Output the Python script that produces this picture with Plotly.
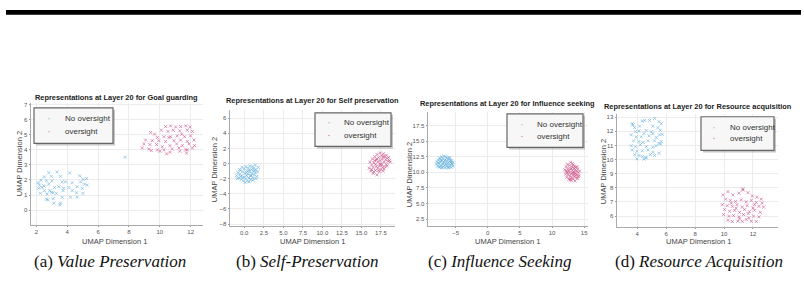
import plotly.graph_objects as go

W, H = 804, 283

# ---------------- data ----------------
titles = [
    "Representations at Layer 20 for Goal guarding",
    "Representations at Layer 20 for Self preservation",
    "Representations at Layer 20 for Influence seeking",
    "Representations at Layer 20 for Resource acquisition",
]
captions = ["Value Preservation", "Self-Preservation", "Influence Seeking", "Resource Acquisition"]
caption_tags = ["(a)", "(b)", "(c)", "(d)"]
series_names = ["No oversight", "oversight"]

goal_no = [(2.80, 2.48), (3.34, 2.53), (4.16, 2.46), (4.81, 2.27), (2.52, 2.20), (2.97, 2.24), (3.56, 2.24),
           (2.30, 1.98), (2.65, 1.94), (3.02, 1.94), (3.67, 1.87), (4.32, 1.81), (5.03, 2.03), (5.25, 2.09),
           (2.19, 1.66), (2.48, 1.61), (2.80, 1.72), (3.17, 1.50), (3.45, 1.55), (3.77, 1.44), (4.10, 1.50),
           (4.64, 1.55), (5.12, 1.72), (2.15, 1.44), (2.52, 1.29), (2.87, 1.29), (3.08, 1.15), (3.30, 1.11),
           (3.73, 1.29), (4.32, 1.29), (4.97, 1.44), (2.26, 1.11), (2.69, 1.07), (2.97, 1.18), (4.60, 1.15),
           (5.01, 1.11), (2.65, 0.72), (3.08, 0.76), (3.67, 0.85), (4.21, 0.85), (4.64, 0.85), (2.74, 0.68),
           (3.13, 0.46), (3.56, 0.46), (3.52, 0.35), (2.13, 1.81), (2.37, 1.50), (3.88, 1.87), (4.86, 1.87),
           (5.29, 1.66), (7.75, 3.50)]
goal_ov = [(10.38, 5.53), (10.70, 5.58), (11.03, 5.51), (11.35, 5.53), (11.68, 5.58), (11.96, 5.51),
           (10.10, 5.29), (10.53, 5.21), (10.87, 5.29), (11.29, 5.25), (11.78, 5.29), (12.11, 5.21),
           (9.40, 5.14), (9.66, 5.03), (10.27, 4.86), (10.70, 4.86), (11.13, 4.92), (11.61, 4.86),
           (12.00, 4.92), (9.08, 4.64), (9.51, 4.60), (9.94, 4.60), (10.38, 4.55), (10.92, 4.60),
           (11.35, 4.64), (11.78, 4.55), (12.22, 4.64), (8.97, 4.38), (9.36, 4.34), (9.79, 4.34),
           (10.16, 4.20), (10.66, 4.27), (11.09, 4.38), (11.46, 4.27), (11.89, 4.38), (12.26, 4.27),
           (8.86, 4.12), (9.29, 4.05), (9.84, 3.99), (10.27, 3.99), (10.81, 4.05), (11.24, 4.12),
           (11.68, 3.99), (12.11, 4.12), (9.45, 3.94), (10.01, 3.90), (10.44, 3.73), (10.66, 3.83),
           (11.29, 3.90), (11.74, 3.77), (11.78, 3.99), (10.59, 4.81), (11.42, 5.03), (9.84, 4.81)]

self_no = [(-1.0, -1.6), (-0.8, -1.2), (-0.7, -1.9), (-0.6, -1.4), (-0.5, -0.9), (-0.4, -2.1), (-0.3, -1.6),
           (-0.2, -1.1), (-0.1, -2.3), (0.0, -1.8), (0.0, -0.7), (0.1, -1.3), (0.2, -0.4), (0.2, -2.0),
           (0.3, -1.6), (0.4, -1.0), (0.4, -2.3), (0.5, -0.6), (0.5, -1.4), (0.6, -1.9), (0.7, -0.3),
           (0.7, -1.1), (0.8, -1.6), (0.8, -2.1), (0.9, -0.8), (1.0, -1.3), (1.0, -0.4), (1.1, -1.9),
           (1.2, -1.0), (1.2, -0.6), (1.3, -1.5), (1.4, -0.2), (1.4, -1.2), (1.5, -0.8), (1.6, -1.7),
           (1.7, -1.1), (1.8, -0.5), (-0.9, -2.0), (-0.6, -0.8), (-0.3, -0.5), (0.1, -2.5), (0.6, -2.4),
           (1.1, -2.2), (1.5, -2.0), (-0.2, -1.9), (0.3, -1.2), (0.9, -1.6), (1.3, -0.9), (-0.5, -1.7),
           (0.6, -0.9)]
self_ov = [(16.0, -0.6), (16.1, 0.2), (16.2, -1.0), (16.3, -0.2), (16.4, 0.6), (16.5, -1.3), (16.5, -0.5),
           (16.6, 0.1), (16.7, 0.9), (16.8, -0.9), (16.8, -0.1), (16.9, 0.5), (17.0, 1.2), (17.0, -1.5),
           (17.1, -0.6), (17.1, 0.2), (17.2, 0.8), (17.3, -1.1), (17.3, -0.3), (17.4, 1.4), (17.4, 0.4),
           (17.5, -0.8), (17.5, 0.0), (17.6, 1.0), (17.7, -0.5), (17.7, 0.6), (17.8, 1.3), (17.8, -1.0),
           (17.9, 0.2), (18.0, 0.9), (18.0, -0.4), (18.1, 0.5), (18.2, 1.1), (18.2, -0.1), (18.3, 0.7),
           (18.4, 0.3), (18.5, 0.8), (18.6, 0.4), (18.7, 0.2), (16.3, -0.8), (16.6, -1.1), (16.9, -0.4),
           (17.2, -0.9), (17.6, -0.2), (17.9, -0.7), (18.3, -0.3), (17.0, 0.6), (17.4, -0.1), (17.8, 0.9),
           (16.7, 0.4)]

infl_no = [(-8.0, 11.3), (-7.9, 11.7), (-7.8, 11.0), (-7.7, 12.0), (-7.6, 11.4), (-7.5, 10.8), (-7.5, 12.3),
           (-7.4, 11.6), (-7.3, 11.1), (-7.2, 12.5), (-7.2, 10.7), (-7.1, 11.9), (-7.0, 11.3), (-7.0, 12.2),
           (-6.9, 10.9), (-6.8, 11.6), (-6.8, 12.6), (-6.7, 11.1), (-6.6, 12.0), (-6.6, 10.7), (-6.5, 11.4),
           (-6.4, 12.3), (-6.4, 11.0), (-6.3, 11.8), (-6.2, 10.8), (-6.2, 12.1), (-6.1, 11.3), (-6.0, 11.7),
           (-6.0, 10.9), (-5.9, 12.2), (-5.8, 11.2), (-5.7, 11.6), (-5.7, 10.8), (-5.6, 11.9), (-5.5, 11.3),
           (-5.4, 11.0), (-5.4, 11.6), (-7.7, 11.5), (-7.4, 12.1), (-7.1, 10.8), (-6.9, 11.5), (-6.5, 12.5),
           (-6.3, 11.4), (-6.0, 12.4), (-5.8, 11.9), (-7.6, 10.9), (-6.7, 11.9), (-6.1, 10.7), (-7.3, 11.8),
           (-5.6, 11.4)]
infl_ov = [(12.0, 10.4), (12.1, 9.7), (12.2, 10.9), (12.3, 9.2), (12.3, 10.1), (12.4, 11.3), (12.5, 9.6),
           (12.5, 10.6), (12.6, 8.9), (12.7, 10.0), (12.7, 11.1), (12.8, 9.4), (12.9, 10.5), (12.9, 11.6),
           (13.0, 8.7), (13.0, 9.8), (13.1, 10.9), (13.1, 9.2), (13.2, 10.3), (13.2, 11.4), (13.3, 8.9),
           (13.3, 9.6), (13.4, 10.7), (13.4, 10.0), (13.5, 9.3), (13.5, 11.0), (13.6, 8.6), (13.6, 10.4),
           (13.7, 9.8), (13.7, 10.8), (13.8, 9.1), (13.8, 10.2), (13.9, 9.6), (14.0, 10.5), (14.0, 9.0),
           (14.1, 10.0), (14.2, 9.5), (14.3, 10.2), (12.4, 9.9), (12.6, 10.3), (12.8, 8.8), (13.0, 10.6),
           (13.3, 11.2), (13.5, 9.9), (13.9, 10.9), (12.2, 10.2), (12.9, 9.0), (13.6, 9.5), (14.1, 9.3),
           (13.2, 9.9)]

res_no = [(3.65, 12.54), (3.82, 12.26), (3.70, 12.44), (4.16, 12.37), (4.51, 12.77), (4.85, 12.77),
          (5.20, 12.91), (5.50, 12.68), (5.66, 12.54), (3.88, 11.98), (4.12, 12.03), (4.62, 12.07),
          (4.97, 11.98), (5.43, 12.26), (5.59, 12.07), (3.59, 11.75), (3.93, 11.61), (4.28, 11.61),
          (4.81, 11.68), (5.08, 11.84), (5.54, 11.75), (5.73, 11.79), (3.75, 11.33), (4.12, 11.28),
          (4.39, 11.21), (4.74, 11.33), (5.20, 11.33), (5.50, 11.14), (5.66, 11.28), (3.59, 10.98),
          (3.88, 10.91), (4.21, 11.05), (4.62, 10.91), (5.08, 10.87), (5.31, 10.98), (5.61, 11.10),
          (3.65, 10.68), (3.98, 10.59), (4.35, 10.63), (4.74, 10.68), (5.08, 10.52), (5.50, 10.45),
          (3.82, 10.35), (4.12, 10.29), (4.35, 10.22), (4.58, 10.17), (4.90, 10.35), (5.20, 10.29),
          (3.98, 10.05), (4.46, 10.03), (4.62, 10.12), (4.35, 12.72), (5.08, 12.37), (5.31, 11.56),
          (4.46, 11.84)]
res_ov = [(9.92, 7.50), (10.27, 7.73), (10.61, 7.50), (11.03, 7.62), (11.30, 7.85), (11.65, 7.66),
          (11.95, 7.43), (12.27, 7.34), (12.57, 7.20), (10.11, 7.20), (10.43, 7.11), (10.80, 7.04),
          (11.19, 7.15), (11.53, 7.01), (11.88, 7.11), (12.23, 6.97), (12.64, 6.92), (9.88, 6.81),
          (10.22, 6.74), (10.57, 6.69), (10.89, 6.81), (11.26, 6.64), (11.60, 6.74), (12.00, 6.57),
          (12.41, 6.69), (12.73, 6.64), (10.04, 6.46), (10.38, 6.34), (10.73, 6.41), (11.07, 6.27),
          (11.42, 6.46), (11.76, 6.32), (12.11, 6.41), (12.50, 6.27), (9.97, 6.11), (10.34, 5.99),
          (10.66, 6.04), (11.03, 5.95), (11.35, 6.11), (11.72, 5.88), (12.04, 5.99), (12.41, 5.95),
          (10.27, 5.71), (10.57, 5.62), (10.96, 5.64), (11.26, 5.62), (11.53, 5.76), (11.88, 5.64),
          (12.23, 5.62), (11.30, 7.92), (10.84, 6.57), (11.67, 6.18), (10.50, 6.92), (12.11, 6.81),
          (11.07, 5.81)]

panels_data = [(goal_no, goal_ov), (self_no, self_ov), (infl_no, infl_ov), (res_no, res_ov)]

# ---------------- styling / layout ----------------
BLUE = "rgba(95,175,220,0.75)"
PINK = "rgba(205,80,135,0.75)"
FONT = "Liberation Sans"

def fx(p):
    return p / W

def fy(p):
    return 1 - p / H

# plot boxes in pixels: (left, right, top, bottom)
boxes = [(31, 203, 103, 226), (230, 395, 110, 227), (428, 588, 112, 227), (617, 778, 114, 228)]
xranges = [[1.65, 12.8], [-1.83, 19.3], [-9.3, 15.6], [2.6, 13.73]]
yranges = [[-0.96, 7.1], [-8.2, 7.1], [1.46, 19.7], [5.26, 13.24]]
xdt = [(2, 2, None), (2.5, 0, ".1f"), (5, 0, None), (2, 0, None)]
ydt = [(1, 0, None), (2, 0, None), (2.5, 0, ".1f"), (1, 0, None)]
title_pos = [(116, 98), (312, 101), (507, 104), (698, 107)]
xtitle_pos = [(115, 243), (312, 243), (507, 243), (698, 243)]
ytitle_pos = [(19, 165), (214, 171), (409, 176), (603, 173)]
legend_boxes = [(34, 113, 108, 144), (315, 391, 113, 147), (507, 583, 114, 148), (701, 774, 117, 151)]
legend_marker_x = [49, 329, 522, 714]
legend_text_x = [63, 342, 535, 728]
legend_rows = [(119, 132), (123, 136), (125, 137), (128, 139)]
caption_x = [110, 307, 500, 699]

fig = go.Figure()
layout = dict(
    width=W, height=H, margin=dict(l=0, r=0, t=0, b=0),
    paper_bgcolor="white", plot_bgcolor="white", showlegend=False,
    font=dict(family=FONT, color="#444"),
)
shapes = []
annotations = []

for i, (no, ov) in enumerate(panels_data):
    n = "" if i == 0 else str(i + 1)
    for pts, col, name in ((no, BLUE, series_names[0]), (ov, PINK, series_names[1])):
        fig.add_trace(go.Scatter(
            x=[p[0] for p in pts], y=[p[1] for p in pts], mode="markers", name=name,
            marker=dict(symbol="x-thin", size=3, line=dict(width=0.8, color=col), color=col),
            xaxis="x" + n, yaxis="y" + n,
        ))
    l, r, t, b = boxes[i]
    ax_common = dict(showgrid=True, gridcolor="#ececec", gridwidth=1, zeroline=False,
                     showline=True, linecolor="#aaa", linewidth=1, ticks="outside", ticklen=1.5,
                     tickcolor="#999", tickfont=dict(size=6, color="#555", family=FONT),
                     fixedrange=True)
    dt, t0, fmt = xdt[i]
    layout["xaxis" + n] = dict(ax_common, domain=[fx(l), fx(r)], range=xranges[i], dtick=dt, tick0=t0,
                               tickformat=fmt, anchor="y" + n)
    dt, t0, fmt = ydt[i]
    layout["yaxis" + n] = dict(ax_common, domain=[fy(b), fy(t)], range=yranges[i], dtick=dt, tick0=t0,
                               tickformat=fmt, anchor="x" + n)

    # titles
    cx, cy = title_pos[i]
    annotations.append(dict(text="<b>" + titles[i] + "</b>", x=fx(cx), y=fy(cy), xref="paper", yref="paper",
                            showarrow=False, xanchor="center", yanchor="middle",
                            font=dict(size=7.4, color="#222", family=FONT)))
    cx, cy = xtitle_pos[i]
    annotations.append(dict(text="UMAP Dimension 1", x=fx(cx), y=fy(cy), xref="paper", yref="paper",
                            showarrow=False, xanchor="center", yanchor="middle",
                            font=dict(size=7.5, color="#444", family=FONT)))
    cx, cy = ytitle_pos[i]
    annotations.append(dict(text="UMAP Dimension 2", x=fx(cx), y=fy(cy), xref="paper", yref="paper",
                            showarrow=False, xanchor="center", yanchor="middle", textangle=-90,
                            font=dict(size=7.5, color="#444", family=FONT)))

    # legend box with shadow
    lx0, lx1, ly0, ly1 = legend_boxes[i]
    shapes.append(dict(type="rect", xref="paper", yref="paper", x0=fx(lx0 + 2), x1=fx(lx1 + 2),
                       y0=fy(ly1 + 2), y1=fy(ly0 + 2), fillcolor="rgba(0,0,0,0.22)", line=dict(width=0),
                       layer="above"))
    shapes.append(dict(type="rect", xref="paper", yref="paper", x0=fx(lx0), x1=fx(lx1),
                       y0=fy(ly1), y1=fy(ly0), fillcolor="#f7f7f7", line=dict(width=1.2, color="#666"),
                       layer="above"))
    mx = legend_marker_x[i]
    for ry, col, name in zip(legend_rows[i], (BLUE, PINK), series_names):
        shapes.append(dict(type="circle", xref="paper", yref="paper", x0=fx(mx - 0.7), x1=fx(mx + 0.7),
                           y0=fy(ry + 0.7), y1=fy(ry - 0.7), fillcolor=col, line=dict(width=0),
                           layer="above"))
        annotations.append(dict(text=name, x=fx(legend_text_x[i]), y=fy(ry), xref="paper", yref="paper",
                                showarrow=False, xanchor="left", yanchor="middle",
                                font=dict(size=8, color="#333", family=FONT)))

    # caption
    annotations.append(dict(text=caption_tags[i] + " <i>" + captions[i] + "</i>", x=fx(caption_x[i]),
                            y=fy(263), xref="paper", yref="paper", showarrow=False, xanchor="center",
                            yanchor="middle", font=dict(size=17, color="#111", family="Liberation Serif")))

# top rule
shapes.append(dict(type="rect", xref="paper", yref="paper", x0=fx(6), x1=fx(801), y0=fy(14), y1=fy(9),
                   fillcolor="black", line=dict(width=0)))

layout["shapes"] = shapes
layout["annotations"] = annotations
fig.update_layout(**layout)
fig.write_html("out.html")
